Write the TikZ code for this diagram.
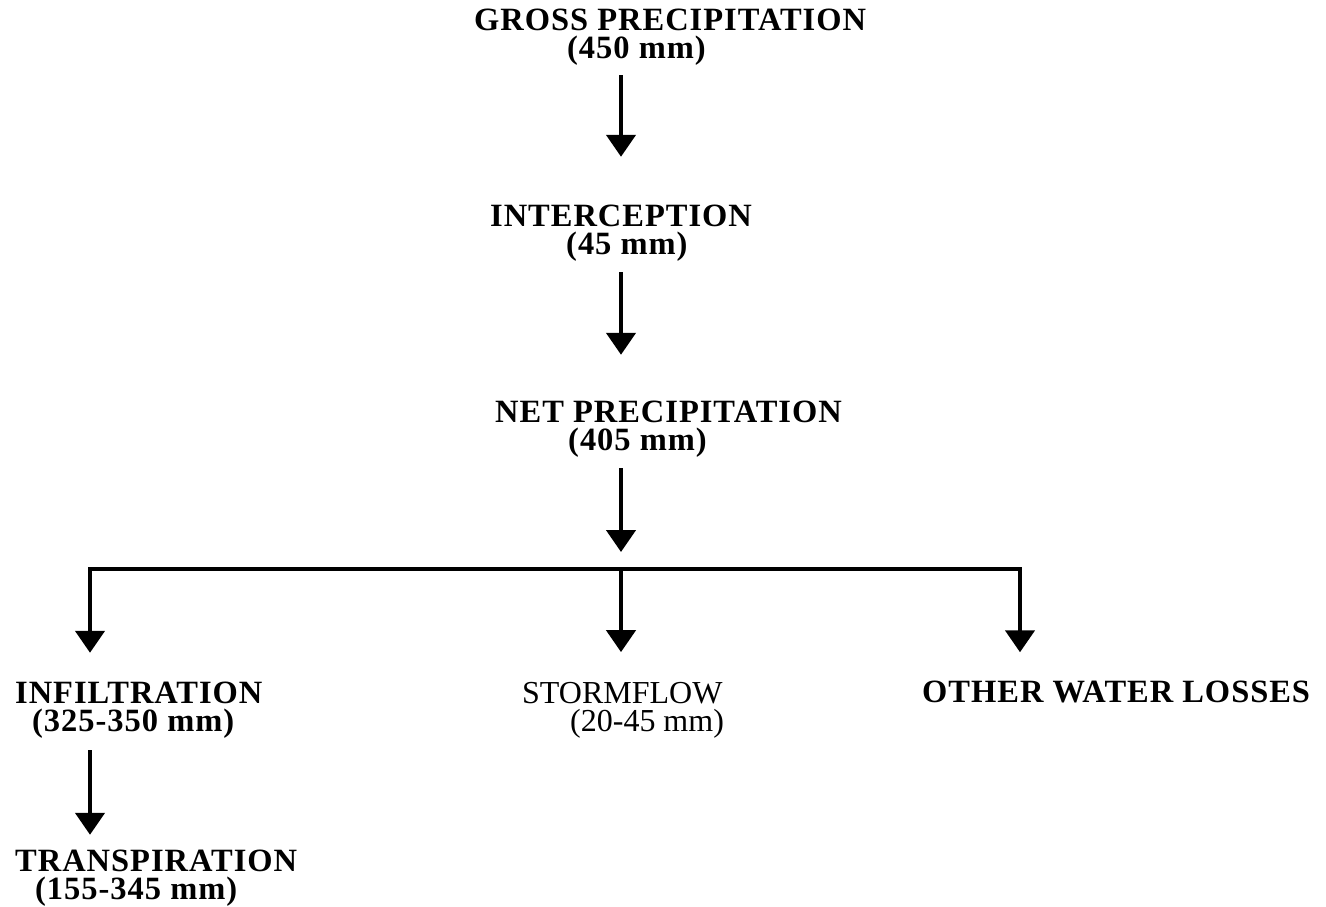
\documentclass[tikz,border=0pt]{standalone}
\usepackage{fontspec}
\setmainfont{Liberation Serif}
\usetikzlibrary{arrows.meta}
\begin{document}
\begin{tikzpicture}[x=1pt,y=-1pt,
  lbl/.style={anchor=base west,inner sep=0pt,align=left,font=\fontsize{32.5}{27.5}\selectfont\bfseries\addfontfeature{LetterSpace=3}},
  lblr/.style={anchor=base west,inner sep=0pt,align=left,font=\fontsize{32}{27.5}\selectfont},
  arr/.style={line width=4.5pt,-{Triangle[width=29pt,length=22pt]}}]
\path[use as bounding box,fill=white] (0,0) rectangle (1326,906);
% nodes (anchored at the baseline of their last line)
\node[lbl] (t1) at (474,58) {GROSS PRECIPITATION\\\hspace*{93pt}(450 mm)};
\node[lbl] (t2) at (490,254) {INTERCEPTION\\\hspace*{76pt}(45 mm)};
\node[lbl] (t3) at (495,450) {NET PRECIPITATION\\\hspace*{73pt}(405 mm)};
\node[lbl] (t4) at (15,731) {INFILTRATION\\\hspace*{17pt}(325-350 mm)};
\node[lbl] (t7) at (15,899) {TRANSPIRATION\\\hspace*{20pt}(155-345 mm)};
\node[lblr] (t5) at (522,731) {STORMFLOW\\\hspace*{48pt}(20-45 mm)};
\node[lbl] (t6) at (922,702) {OTHER WATER LOSSES};
% coordinates
\coordinate (ax) at (621,0);
\coordinate (bm) at (621,569);
\coordinate (bl) at (90,569);
\coordinate (br) at (1020,569);
% connectors
\draw[arr,shorten <=10pt,shorten >=48pt] (t1.south -| ax) -- (t2.north -| ax);
\draw[arr,shorten <=11pt,shorten >=46pt] (t2.south -| ax) -- (t3.north -| ax);
\draw[arr,shorten <=11pt,shorten >=17pt] (t3.south -| ax) -- (bm);
\draw[arr,shorten >=29pt] (bm) -| (t4.north -| bl);
\draw[arr,shorten >=30pt] (bm) -- (t5.north -| bm);
\draw[arr,shorten >=28pt] (bm) -| (t6.north -| br);
\draw[arr,shorten <=12pt,shorten >=15pt] (t4.south -| bl) -- (t7.north -| bl);
\end{tikzpicture}
\end{document}
